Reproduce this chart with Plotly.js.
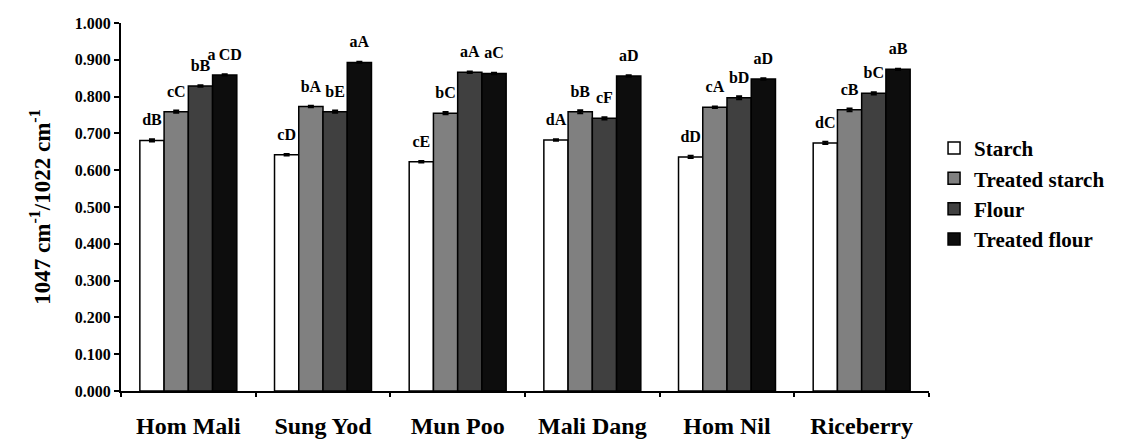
<!DOCTYPE html>
<html>
<head>
<meta charset="utf-8">
<script src="https://cdn.plot.ly/plotly-3.0.1.min.js"></script>
<style>html,body{margin:0;padding:0;background:#fff;}#chart{width:1121px;height:441px;}</style>
</head>
<body>
<div id="chart"></div>
<script>
var categories = ["Hom Mali", "Sung Yod", "Mun Poo", "Mali Dang", "Hom Nil", "Riceberry"];
var seriesNames = ["Starch", "Treated starch", "Flour", "Treated flour"];

var starch        = [0.681, 0.642, 0.623, 0.682, 0.636, 0.674];
var treatedStarch = [0.759, 0.773, 0.755, 0.759, 0.771, 0.764];
var flour         = [0.829, 0.759, 0.866, 0.741, 0.797, 0.809];
var treatedFlour  = [0.859, 0.893, 0.863, 0.856, 0.848, 0.874];

var starchErr        = [0.003, 0.002, 0.002, 0.002, 0.003, 0.003];
var treatedStarchErr = [0.003, 0.002, 0.003, 0.004, 0.002, 0.004];
var flourErr         = [0.002, 0.003, 0.002, 0.003, 0.004, 0.003];
var treatedFlourErr  = [0.002, 0.002, 0.002, 0.002, 0.002, 0.002];

var starchLabels        = ["dB", "cD", "cE", "dA", "dD", "dC"];
var treatedStarchLabels = ["cC", "bA", "bC", "bB", "cA", "cB"];
var flourLabels         = ["bB", "bE", "aA", "cF", "bD", "bC"];
var treatedFlourLabels  = ["a\u2009CD", "aA", "aC", "aD", "aD", "aB"];

var colors = ["#ffffff", "#808080", "#404040", "#0d0d0d"];
var values = [starch, treatedStarch, flour, treatedFlour];
var errs = [starchErr, treatedStarchErr, flourErr, treatedFlourErr];
var labels = [starchLabels, treatedStarchLabels, flourLabels, treatedFlourLabels];

var font = "Liberation Serif, Times New Roman, serif";
var traces = [];
for (var i = 0; i < 4; i++) {
  traces.push({
    type: "bar",
    name: seriesNames[i],
    x: categories,
    y: values[i],
    offsetgroup: "g" + i,
    marker: {color: colors[i], line: {color: "#000", width: 1.5}},
    error_y: {type: "data", array: errs[i], visible: true, color: "#000", thickness: 2, width: 3},
    hoverinfo: "skip"
  });
}
for (var j = 0; j < 4; j++) {
  traces.push({
    type: "scatter",
    mode: "markers+text",
    x: categories,
    y: values[j],
    offsetgroup: "g" + j,
    text: labels[j],
    textposition: "top center",
    textfont: {family: font, size: 16, color: "#000", weight: "bold"},
    marker: {size: 16, opacity: 0},
    showlegend: false,
    cliponaxis: false,
    hoverinfo: "skip"
  });
}

var layout = {
  width: 1121, height: 441,
  margin: {l: 121, r: 191, t: 23, b: 50},
  paper_bgcolor: "#fff", plot_bgcolor: "#fff",
  barmode: "group", bargap: 0.28, bargroupgap: 0,
  scattermode: "group", scattergap: 0.28,
  showlegend: true,
  legend: {
    x: 1.005, y: 0.715, xanchor: "left", yanchor: "top",
    font: {family: font, size: 21, color: "#000", weight: "bold"},
    tracegroupgap: 0, itemwidth: 30
  },
  xaxis: {
    type: "category",
    showline: true, linecolor: "#000", linewidth: 2,
    ticks: "outside", tickson: "boundaries", ticklen: 4, tickwidth: 2, tickcolor: "#000",
    tickfont: {family: font, size: 24, color: "#000", weight: "bold"},
    ticklabelstandoff: 12,
    showgrid: false, zeroline: false
  },
  yaxis: {
    range: [0, 1], dtick: 0.1, tickformat: ".3f",
    showline: true, linecolor: "#000", linewidth: 2,
    ticks: "outside", ticklen: 5, tickwidth: 2, tickcolor: "#000",
    tickfont: {family: font, size: 16, color: "#000", weight: "bold"},
    showgrid: false, zeroline: false,
    title: {text: "1047 cm<sup>-1</sup>/1022 cm<sup>-1</sup>", standoff: 18,
            font: {family: font, size: 23, color: "#000", weight: "bold"}}
  }
};

Plotly.newPlot("chart", traces, layout, {staticPlot: true, displayModeBar: false});
</script>
</body>
</html>
